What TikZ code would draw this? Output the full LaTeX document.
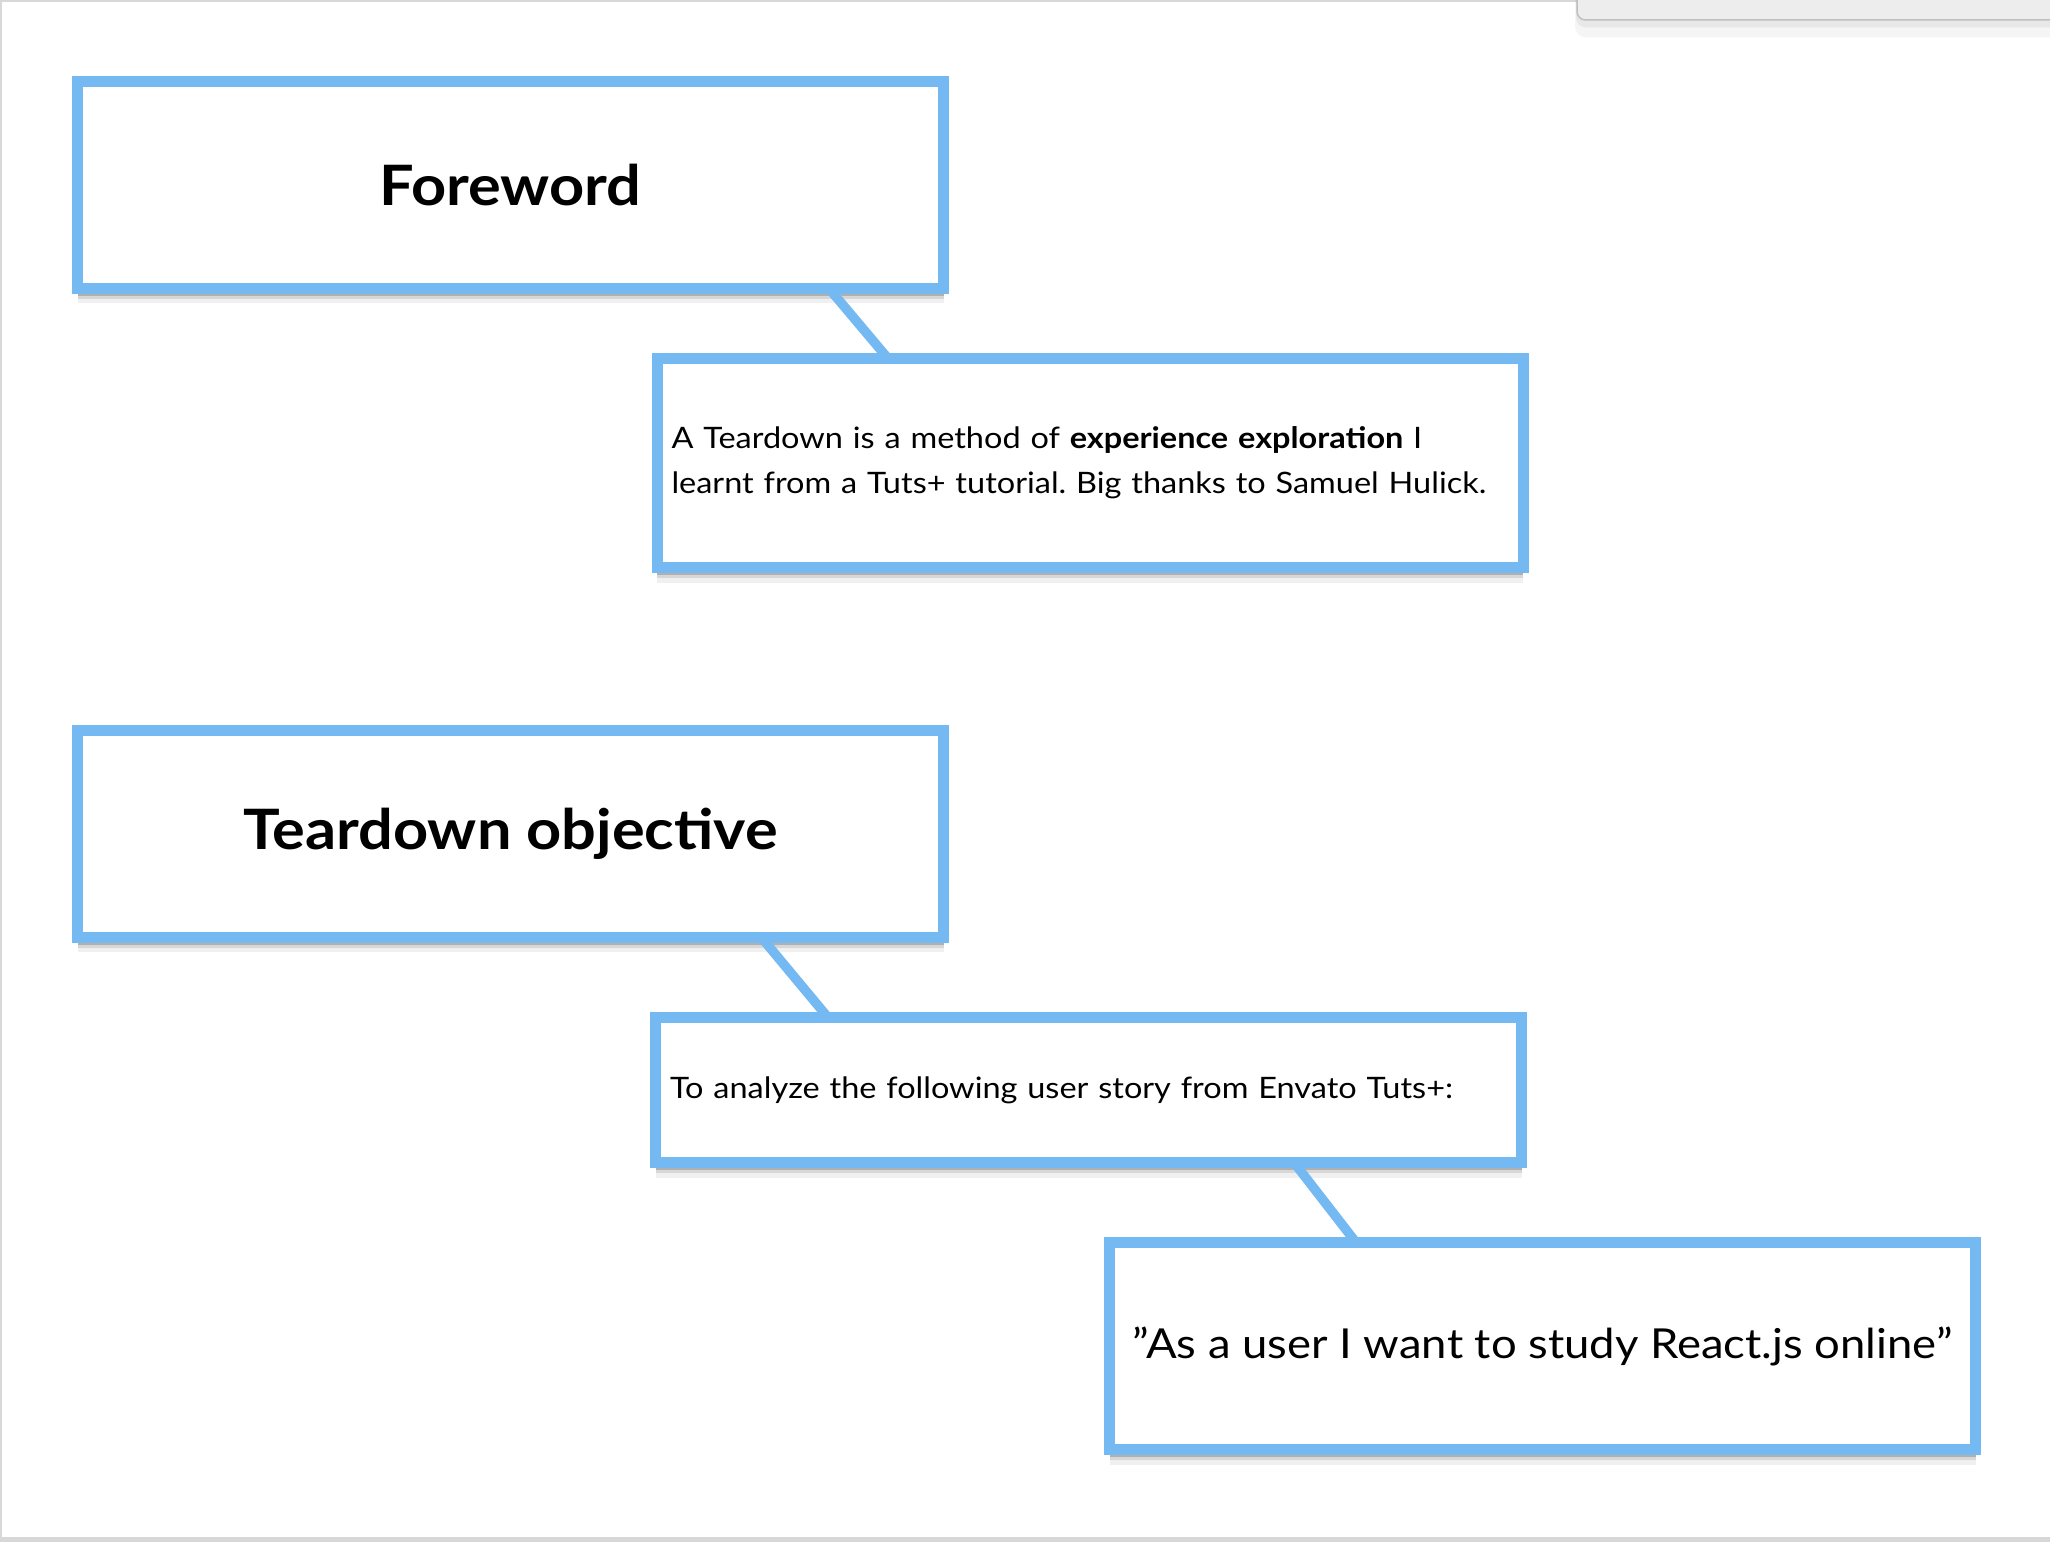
\documentclass[tikz,border=0pt]{standalone}
\usepackage{fontspec}
\setmainfont{Lato}[FakeStretch=1.1]
\usepackage{tikz}
\usetikzlibrary{shadows}
\definecolor{boxblue}{RGB}{117,185,242}
\definecolor{pagegray}{RGB}{216,216,216}
\definecolor{tabgray}{RGB}{237,237,237}
\frenchspacing

\begin{document}
\begin{tikzpicture}[
  box/.style={rectangle, draw=boxblue, fill=white, line width=0.22cm, minimum width=17.32cm, outer sep=0pt, inner xsep=0.29cm,
    drop shadow={shadow xshift=0cm, shadow yshift=-0.30cm, opacity=.06, fill=black},
    drop shadow={shadow xshift=0cm, shadow yshift=-0.21cm, opacity=.10, fill=black},
    drop shadow={shadow xshift=0cm, shadow yshift=-0.15cm, opacity=.18, fill=black}},
  head/.style={box, minimum height=4.14cm, font=\fontsize{31.7}{38}\selectfont\bfseries},
  note/.style={box, text width=16.74cm, align=left, font=\fontsize{16.8}{25.6}\selectfont},
  link/.style={draw=boxblue, line width=0.19cm}]
  \useasboundingbox (0cm, 0cm) rectangle (41cm, -30.84cm);
  \fill [pagegray] (0cm, 0cm) rectangle (41cm, -30.84cm);
  \fill [white] (0.04cm, -0.04cm) rectangle (41cm, -30.74cm);
  \fill [black, opacity=.04, rounded corners=0.22cm] (31.5cm, 0.3cm) rectangle (41.3cm, -0.75cm);
  \fill [black, opacity=.05, rounded corners=0.2cm] (31.52cm, 0.3cm) rectangle (41.3cm, -0.55cm);
  \filldraw [fill=tabgray, draw=black!25, line width=0.03cm, rounded corners=0.17cm] (31.54cm, 0.3cm) rectangle (41.3cm, -0.4cm);

  \node [head] (foreword) at (10.21cm, -3.70cm) {Foreword};
  \node [note, minimum height=4.18cm] (teardown) at (21.80cm, -9.26cm) {A Teardown is a method of \textbf{experience exploration} I\\ learnt from a Tuts+ tutorial. Big thanks to Samuel Hulick.};
  \node [head] (objective) at (10.21cm, -16.67cm) {Teardown objective};
  \node [note, minimum height=2.90cm] (analyze) at (21.77cm, -21.80cm) {To analyze the following user story from Envato Tuts+:};
  \node [head, font=\fontsize{23.5}{28}\selectfont] (story) at (30.85cm, -26.92cm) {”As a user I want to study React.js online”};
  \draw [link] ([xshift=6.37cm]foreword.south) -- ([xshift=-4.04cm]teardown.north);
  \draw [link] ([xshift=5.01cm]objective.south) -- ([xshift=-5.21cm]analyze.north);
  \draw [link] ([xshift=4.11cm]analyze.south) -- ([xshift=-3.73cm]story.north);
\end{tikzpicture}
\end{document}
